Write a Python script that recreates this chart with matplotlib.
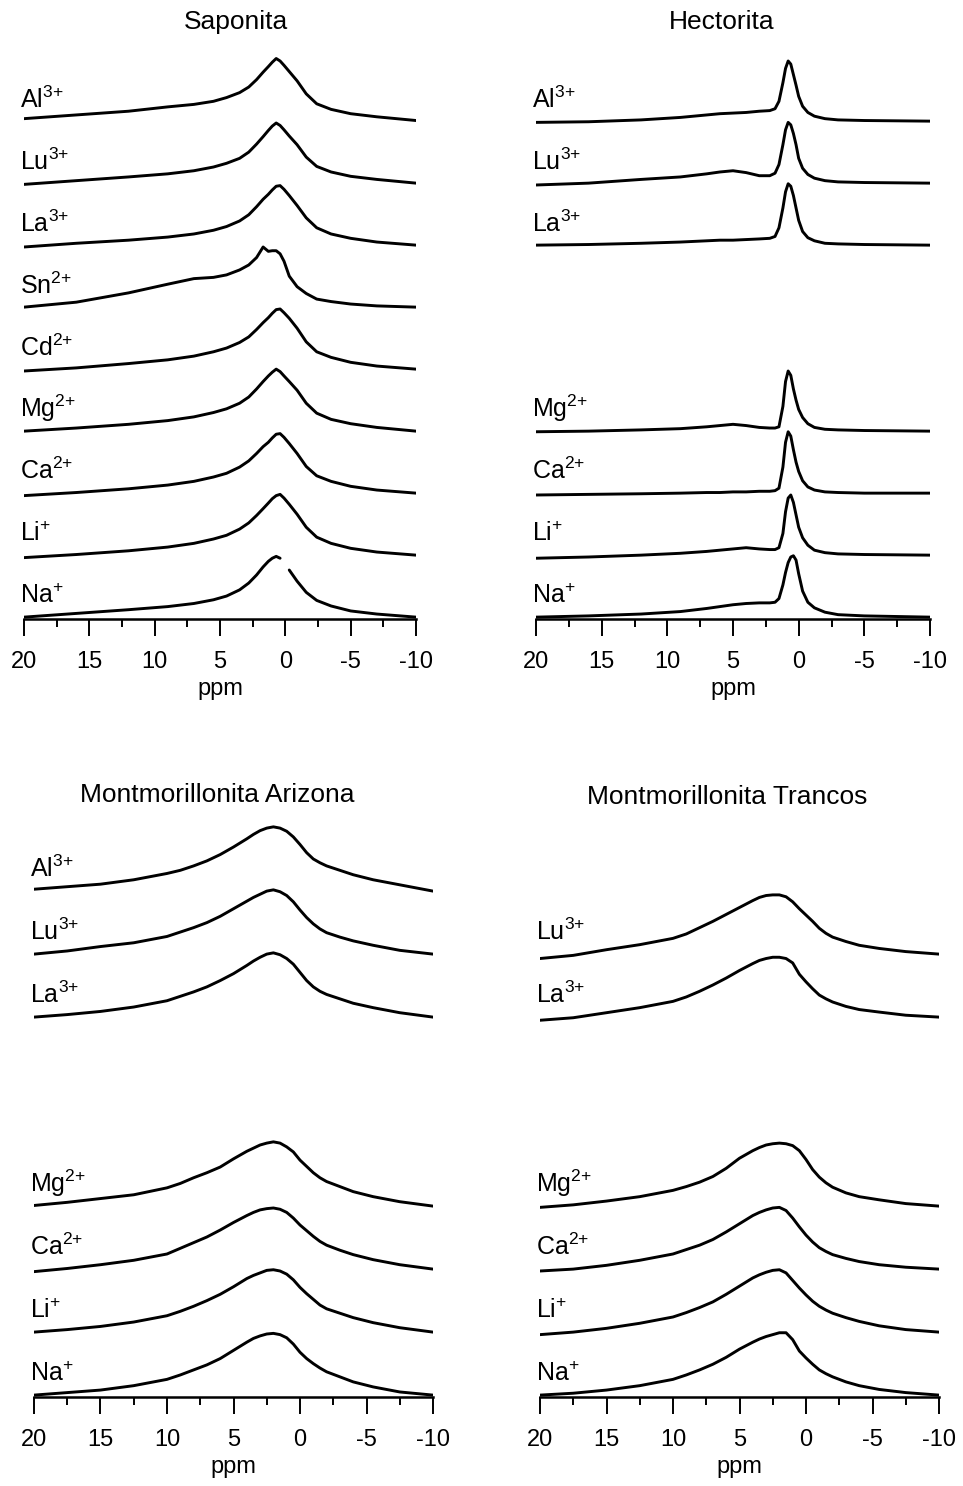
import matplotlib.pyplot as plt
from matplotlib.ticker import MultipleLocator

plt.rcParams["font.family"] = ["Liberation Sans", "DejaVu Sans"]
plt.rcParams["mathtext.fontset"] = "custom"
plt.rcParams["mathtext.rm"] = "Liberation Sans"
plt.rcParams["mathtext.it"] = "Liberation Sans:italic"
plt.rcParams["mathtext.default"] = "regular"

NAN = float("nan")

# chemical shift grids (ppm) on which each spectrum is sampled
SAP_PPM = [20, 16, 12, 9, 7, 5.5, 4.5, 3.5, 2.8, 2.2, 1.7, 1.3, 1.0, 0.7,
           0.4, 0.1, -0.3, -0.9, -1.6, -2.4, -3.5, -5, -7, -10]
HEC_PPM = [20, 16, 12, 9, 7, 6, 5, 4, 3, 2.2, 1.8, 1.5, 1.2, 1.0, 0.8, 0.6,
           0.4, 0.2, 0.0, -0.3, -0.7, -1.2, -2, -3, -5, -10]
MONT_PPM = [20, 17.5, 15, 12.5, 10, 9, 8, 7, 6, 5, 4, 3.5, 3, 2.5, 2, 1.5,
            1, 0.5, 0, -0.5, -1, -1.5, -2, -3, -4, -5.5, -7.5, -10]

# intensities relative to each trace's baseline (1 = one trace spacing)
SAP_AL = [0.04, 0.10, 0.16, 0.23, 0.27, 0.32, 0.38, 0.46, 0.55, 0.67, 0.79,
          0.88, 0.95, 1.01, 0.97, 0.90, 0.80, 0.65, 0.44, 0.28, 0.19, 0.12,
          0.07, 0.01]
SAP_LU = [-0.02, 0.04, 0.10, 0.15, 0.20, 0.26, 0.32, 0.40, 0.50, 0.63, 0.75,
          0.85, 0.92, 0.97, 0.93, 0.86, 0.76, 0.62, 0.42, 0.27, 0.18, 0.11,
          0.06, 0.0]
SAP_LA = [-0.03, 0.03, 0.08, 0.13, 0.18, 0.24, 0.30, 0.39, 0.49, 0.62, 0.74,
          0.82, 0.89, 0.95, 0.96, 0.90, 0.80, 0.64, 0.44, 0.28, 0.18, 0.11,
          0.05, 0.0]
SAP_SN = [0.0, 0.08, 0.23, 0.37, 0.46, 0.48, 0.52, 0.60, 0.68, 0.80, 0.97,
          0.90, 0.91, 0.91, 0.86, 0.74, 0.50, 0.33, 0.22, 0.13, 0.09, 0.05,
          0.02, 0.0]
SAP_CD = [-0.03, 0.02, 0.09, 0.15, 0.21, 0.28, 0.34, 0.43, 0.52, 0.64, 0.75,
          0.83, 0.90, 0.96, 0.97, 0.91, 0.82, 0.66, 0.44, 0.28, 0.19, 0.11,
          0.05, 0.0]
SAP_MG = [0.0, 0.05, 0.11, 0.17, 0.23, 0.30, 0.36, 0.45, 0.55, 0.68, 0.80,
          0.89, 0.95, 1.0, 0.96, 0.89, 0.80, 0.66, 0.45, 0.29, 0.19, 0.12,
          0.06, 0.0]
SAP_CA = [-0.04, 0.01, 0.07, 0.13, 0.19, 0.26, 0.32, 0.42, 0.52, 0.64, 0.75,
          0.82, 0.89, 0.95, 0.96, 0.90, 0.80, 0.64, 0.43, 0.28, 0.19, 0.11,
          0.05, 0.0]
SAP_LI = [-0.04, 0.01, 0.07, 0.13, 0.19, 0.26, 0.32, 0.42, 0.52, 0.64, 0.75,
          0.84, 0.91, 0.96, 0.98, 0.92, 0.82, 0.66, 0.45, 0.29, 0.19, 0.11,
          0.05, 0.0]
# the Na+ trace has a short break just right of its maximum
SAP_NA = [0.0, 0.06, 0.12, 0.17, 0.22, 0.28, 0.34, 0.44, 0.55, 0.68, 0.81,
          0.90, 0.95, 0.98, 0.95, NAN, 0.76, 0.58, 0.40, 0.27, 0.18, 0.10,
          0.05, 0.0]

HEC_AL = [-0.02, -0.01, 0.02, 0.06, 0.10, 0.12, 0.13, 0.14, 0.16, 0.17, 0.20,
          0.32, 0.62, 0.85, 0.97, 0.92, 0.75, 0.58, 0.40, 0.24, 0.14, 0.08,
          0.04, 0.02, 0.01, 0.0]
HEC_LU = [-0.03, 0.0, 0.06, 0.10, 0.15, 0.18, 0.20, 0.17, 0.12, 0.12, 0.16,
          0.30, 0.62, 0.86, 0.98, 0.94, 0.80, 0.62, 0.40, 0.24, 0.14, 0.08,
          0.04, 0.02, 0.01, 0.0]
HEC_LA = [0.0, 0.01, 0.03, 0.05, 0.07, 0.08, 0.08, 0.09, 0.10, 0.11, 0.14,
          0.28, 0.60, 0.86, 0.99, 0.95, 0.80, 0.60, 0.40, 0.22, 0.12, 0.07,
          0.03, 0.02, 0.01, 0.0]
HEC_MG = [-0.01, 0.0, 0.02, 0.04, 0.07, 0.09, 0.11, 0.09, 0.06, 0.05, 0.05,
          0.07, 0.40, 0.80, 0.97, 0.90, 0.68, 0.50, 0.35, 0.22, 0.12, 0.06,
          0.03, 0.02, 0.01, 0.0]
HEC_CA = [-0.03, -0.02, -0.01, 0.0, 0.01, 0.01, 0.02, 0.02, 0.03, 0.03, 0.04,
          0.08, 0.42, 0.82, 0.99, 0.92, 0.70, 0.50, 0.35, 0.20, 0.10, 0.05,
          0.02, 0.01, 0.0, 0.0]
HEC_LI = [-0.05, -0.03, 0.0, 0.03, 0.06, 0.08, 0.10, 0.12, 0.10, 0.09, 0.09,
          0.12, 0.35, 0.70, 0.92, 0.97, 0.85, 0.65, 0.45, 0.28, 0.16, 0.08,
          0.04, 0.02, 0.01, 0.0]
HEC_NA = [0.0, 0.02, 0.05, 0.09, 0.14, 0.17, 0.20, 0.22, 0.23, 0.23, 0.24,
          0.30, 0.52, 0.72, 0.88, 0.97, 0.99, 0.92, 0.70, 0.42, 0.24, 0.15,
          0.08, 0.04, 0.02, 0.0]

ARI_AL = [0.03, 0.07, 0.11, 0.18, 0.28, 0.33, 0.40, 0.48, 0.58, 0.70, 0.83,
          0.90, 0.96, 1.0, 1.02, 1.0, 0.95, 0.86, 0.74, 0.61, 0.51, 0.45,
          0.40, 0.33, 0.26, 0.18, 0.10, 0.0]
ARI_LU = [0.0, 0.05, 0.12, 0.18, 0.28, 0.35, 0.42, 0.50, 0.60, 0.72, 0.84,
          0.90, 0.95, 1.0, 1.02, 0.99, 0.93, 0.83, 0.70, 0.58, 0.48, 0.40,
          0.34, 0.27, 0.21, 0.14, 0.06, 0.0]
ARI_LA = [0.0, 0.04, 0.09, 0.16, 0.26, 0.33, 0.40, 0.48, 0.58, 0.69, 0.82,
          0.89, 0.95, 1.0, 1.02, 0.99, 0.93, 0.84, 0.71, 0.58, 0.48, 0.41,
          0.36, 0.29, 0.22, 0.15, 0.07, 0.0]
ARI_MG = [0.01, 0.06, 0.12, 0.18, 0.29, 0.36, 0.45, 0.53, 0.62, 0.75, 0.87,
          0.92, 0.97, 1.0, 1.02, 1.0, 0.94, 0.86, 0.73, 0.63, 0.53, 0.45,
          0.39, 0.31, 0.23, 0.15, 0.07, 0.0]
ARI_CA = [-0.04, 0.01, 0.07, 0.14, 0.24, 0.33, 0.42, 0.51, 0.62, 0.74, 0.85,
          0.90, 0.94, 0.96, 0.97, 0.95, 0.90, 0.81, 0.70, 0.61, 0.52, 0.44,
          0.38, 0.30, 0.23, 0.15, 0.07, 0.0]
ARI_LI = [0.0, 0.04, 0.09, 0.16, 0.26, 0.33, 0.41, 0.50, 0.60, 0.72, 0.85,
          0.90, 0.94, 0.98, 0.99, 0.97, 0.92, 0.83, 0.71, 0.61, 0.52, 0.43,
          0.37, 0.30, 0.23, 0.15, 0.07, 0.0]
ARI_NA = [0.0, 0.04, 0.08, 0.15, 0.25, 0.32, 0.40, 0.48, 0.58, 0.71, 0.84,
          0.90, 0.94, 0.97, 0.98, 0.96, 0.91, 0.81, 0.68, 0.58, 0.50, 0.43,
          0.37, 0.29, 0.21, 0.13, 0.05, 0.0]

TRA_LU = [-0.07, -0.02, 0.07, 0.15, 0.25, 0.32, 0.42, 0.52, 0.63, 0.74, 0.85,
          0.90, 0.93, 0.94, 0.94, 0.91, 0.83, 0.72, 0.62, 0.52, 0.41, 0.33,
          0.27, 0.20, 0.14, 0.09, 0.04, 0.0]
TRA_LA = [-0.05, -0.01, 0.07, 0.15, 0.25, 0.32, 0.41, 0.51, 0.62, 0.74, 0.85,
          0.90, 0.93, 0.95, 0.95, 0.93, 0.86, 0.68, 0.56, 0.45, 0.35, 0.29,
          0.24, 0.17, 0.12, 0.08, 0.03, 0.0]
TRA_MG = [-0.02, 0.02, 0.08, 0.15, 0.25, 0.31, 0.38, 0.47, 0.60, 0.76, 0.88,
          0.93, 0.97, 0.99, 1.0, 0.99, 0.96, 0.88, 0.74, 0.58, 0.46, 0.37,
          0.30, 0.21, 0.15, 0.10, 0.04, 0.0]
TRA_CA = [-0.03, 0.0, 0.06, 0.14, 0.24, 0.31, 0.38, 0.47, 0.59, 0.72, 0.85,
          0.90, 0.94, 0.97, 0.98, 0.93, 0.81, 0.67, 0.54, 0.43, 0.34, 0.28,
          0.23, 0.17, 0.12, 0.07, 0.03, 0.0]
TRA_LI = [-0.04, 0.0, 0.06, 0.14, 0.24, 0.31, 0.39, 0.48, 0.60, 0.73, 0.86,
          0.91, 0.95, 0.98, 0.99, 0.94, 0.82, 0.70, 0.59, 0.49, 0.41, 0.35,
          0.30, 0.23, 0.17, 0.10, 0.04, 0.0]
TRA_NA = [0.0, 0.03, 0.08, 0.15, 0.25, 0.32, 0.40, 0.49, 0.60, 0.73, 0.84,
          0.89, 0.93, 0.96, 0.99, 0.99, 0.88, 0.70, 0.59, 0.49, 0.40, 0.34,
          0.29, 0.21, 0.15, 0.09, 0.04, 0.0]

ION_LABELS = {
    "Al": r"Al$^{3{+}}$", "Lu": r"Lu$^{3{+}}$", "La": r"La$^{3{+}}$",
    "Sn": r"Sn$^{2{+}}$", "Cd": r"Cd$^{2{+}}$", "Mg": r"Mg$^{2{+}}$",
    "Ca": r"Ca$^{2{+}}$", "Li": r"Li$^{{+}}$", "Na": r"Na$^{{+}}$",
}

# title, title centre (px), axes (left, right, bottom px, px per trace),
# ppm grid, traces as (ion, stacking slot, intensities)
panels = [
    ("Saponita", (236, 22), (24, 416, 619, 62), SAP_PPM,
     [("Al", 8, SAP_AL), ("Lu", 7, SAP_LU), ("La", 6, SAP_LA),
      ("Sn", 5, SAP_SN), ("Cd", 4, SAP_CD), ("Mg", 3, SAP_MG),
      ("Ca", 2, SAP_CA), ("Li", 1, SAP_LI), ("Na", 0, SAP_NA)]),
    ("Hectorita", (722, 22), (536, 930, 619, 62), HEC_PPM,
     [("Al", 8, HEC_AL), ("Lu", 7, HEC_LU), ("La", 6, HEC_LA),
      ("Mg", 3, HEC_MG), ("Ca", 2, HEC_CA), ("Li", 1, HEC_LI),
      ("Na", 0, HEC_NA)]),
    ("Montmorillonita Arizona", (217, 795), (34, 433, 1397, 63), MONT_PPM,
     [("Al", 8, ARI_AL), ("Lu", 7, ARI_LU), ("La", 6, ARI_LA),
      ("Mg", 3, ARI_MG), ("Ca", 2, ARI_CA), ("Li", 1, ARI_LI),
      ("Na", 0, ARI_NA)]),
    ("Montmorillonita Trancos", (727, 797), (540, 939, 1397, 63), MONT_PPM,
     [("Lu", 7, TRA_LU), ("La", 6, TRA_LA),
      ("Mg", 3, TRA_MG), ("Ca", 2, TRA_CA), ("Li", 1, TRA_LI),
      ("Na", 0, TRA_NA)]),
]

W, H = 963, 1486
Y_LOW, Y_HIGH = -0.03, 9.1

fig = plt.figure(figsize=(W / 100, H / 100), dpi=100)

for title, (tx, ty), (left, right, bottom, unit), ppm, traces in panels:
    height = (Y_HIGH - Y_LOW) * unit
    ax = fig.add_axes([left / W, 1 - bottom / H, (right - left) / W, height / H])
    for ion, slot, heights in traces:
        ax.plot(ppm, [slot + h for h in heights], color="black", lw=2.1,
                solid_joinstyle="round", solid_capstyle="round")
        ax.text(20.3, slot + 0.22, ION_LABELS[ion], fontsize=18,
                ha="left", va="baseline")
    ax.set_xlim(20, -10)
    ax.set_ylim(Y_LOW, Y_HIGH)
    for side in ("left", "right", "top"):
        ax.spines[side].set_visible(False)
    ax.spines["bottom"].set_linewidth(1.8)
    ax.set_yticks([])
    ax.xaxis.set_minor_locator(MultipleLocator(2.5))
    ax.set_xticks([20, 15, 10, 5, 0, -5, -10])
    ax.set_xticklabels(["20", "15", "10", "5", "0", "-5", "-10"])
    ax.tick_params(axis="x", which="major", direction="out", length=12,
                   width=1.4, pad=11, labelsize=17)
    ax.tick_params(axis="x", which="minor", direction="out", length=6,
                   width=1.4)
    ax.set_xlabel("ppm", fontsize=17, labelpad=4)
    ax.patch.set_alpha(0)
    fig.text(tx / W, 1 - ty / H, title, fontsize=19, ha="center", va="center")

fig.savefig("out.png", dpi=100)
